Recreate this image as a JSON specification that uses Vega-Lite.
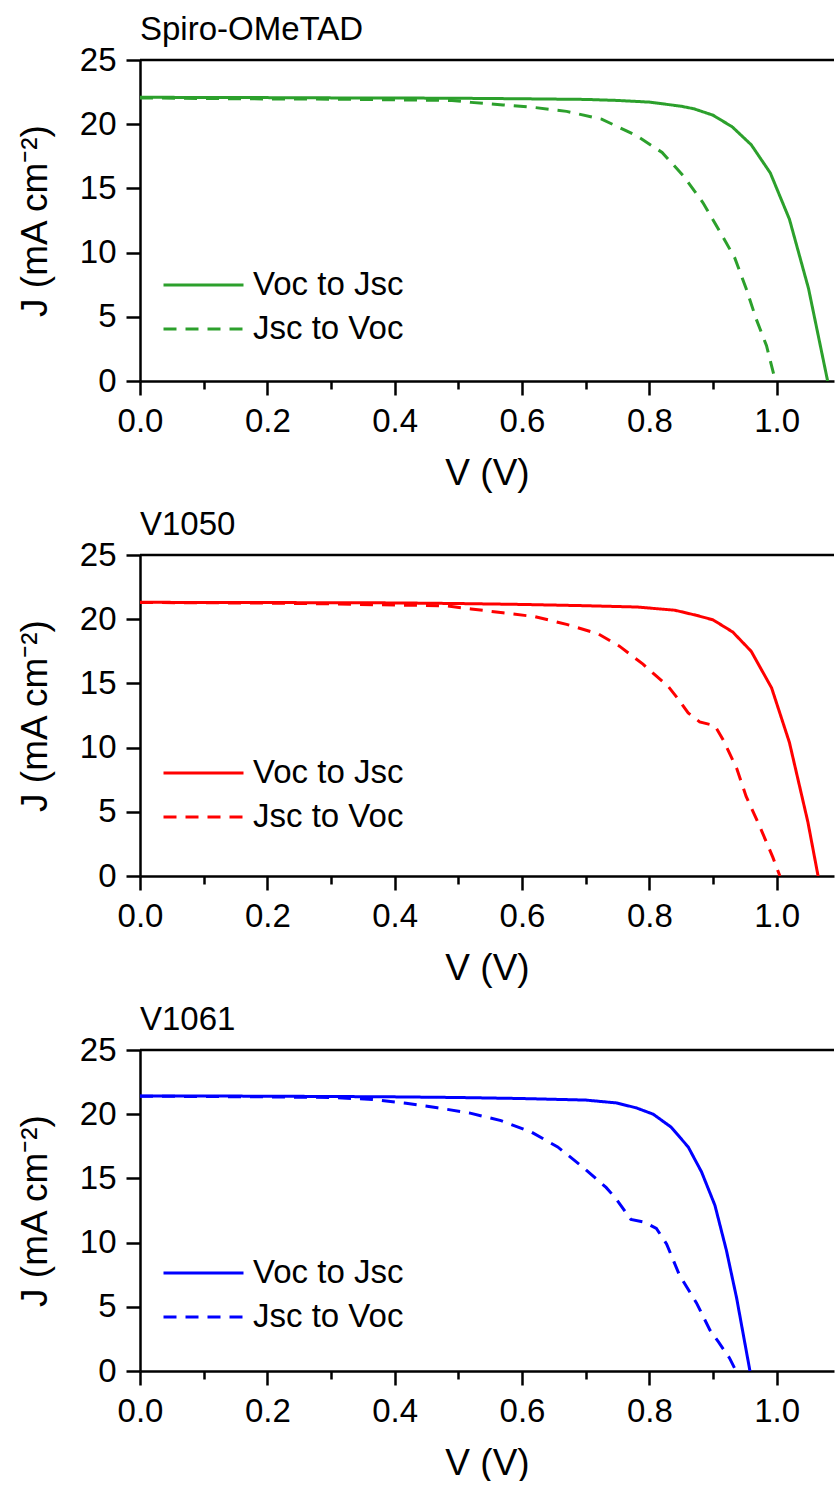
{
  "$schema": "https://vega.github.io/schema/vega-lite/v6.json",
  "padding": {"left": 16, "top": 14, "right": 0, "bottom": 0},
  "spacing": 18,
  "data": {"values": [
    {"panel":"Spiro-OMeTAD","scan":"Voc to Jsc","V":0,"J":22.1},
    {"panel":"Spiro-OMeTAD","scan":"Voc to Jsc","V":0.1,"J":22.08},
    {"panel":"Spiro-OMeTAD","scan":"Voc to Jsc","V":0.2,"J":22.07},
    {"panel":"Spiro-OMeTAD","scan":"Voc to Jsc","V":0.3,"J":22.05},
    {"panel":"Spiro-OMeTAD","scan":"Voc to Jsc","V":0.4,"J":22.04},
    {"panel":"Spiro-OMeTAD","scan":"Voc to Jsc","V":0.5,"J":22.02},
    {"panel":"Spiro-OMeTAD","scan":"Voc to Jsc","V":0.6,"J":21.98},
    {"panel":"Spiro-OMeTAD","scan":"Voc to Jsc","V":0.7,"J":21.93},
    {"panel":"Spiro-OMeTAD","scan":"Voc to Jsc","V":0.75,"J":21.85},
    {"panel":"Spiro-OMeTAD","scan":"Voc to Jsc","V":0.8,"J":21.72},
    {"panel":"Spiro-OMeTAD","scan":"Voc to Jsc","V":0.85,"J":21.4},
    {"panel":"Spiro-OMeTAD","scan":"Voc to Jsc","V":0.87,"J":21.2},
    {"panel":"Spiro-OMeTAD","scan":"Voc to Jsc","V":0.9,"J":20.7},
    {"panel":"Spiro-OMeTAD","scan":"Voc to Jsc","V":0.93,"J":19.8},
    {"panel":"Spiro-OMeTAD","scan":"Voc to Jsc","V":0.96,"J":18.4},
    {"panel":"Spiro-OMeTAD","scan":"Voc to Jsc","V":0.99,"J":16.2},
    {"panel":"Spiro-OMeTAD","scan":"Voc to Jsc","V":1.02,"J":12.6},
    {"panel":"Spiro-OMeTAD","scan":"Voc to Jsc","V":1.05,"J":7.2},
    {"panel":"Spiro-OMeTAD","scan":"Voc to Jsc","V":1.08,"J":0},
    {"panel":"Spiro-OMeTAD","scan":"Jsc to Voc","V":0,"J":22.05},
    {"panel":"Spiro-OMeTAD","scan":"Jsc to Voc","V":0.1,"J":22.0},
    {"panel":"Spiro-OMeTAD","scan":"Jsc to Voc","V":0.2,"J":21.97},
    {"panel":"Spiro-OMeTAD","scan":"Jsc to Voc","V":0.3,"J":21.95},
    {"panel":"Spiro-OMeTAD","scan":"Jsc to Voc","V":0.4,"J":21.9},
    {"panel":"Spiro-OMeTAD","scan":"Jsc to Voc","V":0.49,"J":21.85},
    {"panel":"Spiro-OMeTAD","scan":"Jsc to Voc","V":0.52,"J":21.7},
    {"panel":"Spiro-OMeTAD","scan":"Jsc to Voc","V":0.57,"J":21.5},
    {"panel":"Spiro-OMeTAD","scan":"Jsc to Voc","V":0.62,"J":21.3},
    {"panel":"Spiro-OMeTAD","scan":"Jsc to Voc","V":0.67,"J":21.0},
    {"panel":"Spiro-OMeTAD","scan":"Jsc to Voc","V":0.725,"J":20.4},
    {"panel":"Spiro-OMeTAD","scan":"Jsc to Voc","V":0.78,"J":19.1},
    {"panel":"Spiro-OMeTAD","scan":"Jsc to Voc","V":0.82,"J":17.8},
    {"panel":"Spiro-OMeTAD","scan":"Jsc to Voc","V":0.853,"J":16.0},
    {"panel":"Spiro-OMeTAD","scan":"Jsc to Voc","V":0.884,"J":13.9},
    {"panel":"Spiro-OMeTAD","scan":"Jsc to Voc","V":0.91,"J":11.7},
    {"panel":"Spiro-OMeTAD","scan":"Jsc to Voc","V":0.934,"J":9.6},
    {"panel":"Spiro-OMeTAD","scan":"Jsc to Voc","V":0.952,"J":7.2},
    {"panel":"Spiro-OMeTAD","scan":"Jsc to Voc","V":0.968,"J":4.8},
    {"panel":"Spiro-OMeTAD","scan":"Jsc to Voc","V":0.984,"J":2.75},
    {"panel":"Spiro-OMeTAD","scan":"Jsc to Voc","V":0.998,"J":0},
    {"panel":"V1050","scan":"Voc to Jsc","V":0,"J":21.32},
    {"panel":"V1050","scan":"Voc to Jsc","V":0.1,"J":21.3},
    {"panel":"V1050","scan":"Voc to Jsc","V":0.2,"J":21.3},
    {"panel":"V1050","scan":"Voc to Jsc","V":0.3,"J":21.28},
    {"panel":"V1050","scan":"Voc to Jsc","V":0.4,"J":21.27},
    {"panel":"V1050","scan":"Voc to Jsc","V":0.5,"J":21.22},
    {"panel":"V1050","scan":"Voc to Jsc","V":0.6,"J":21.15},
    {"panel":"V1050","scan":"Voc to Jsc","V":0.7,"J":21.05},
    {"panel":"V1050","scan":"Voc to Jsc","V":0.78,"J":20.95},
    {"panel":"V1050","scan":"Voc to Jsc","V":0.84,"J":20.7},
    {"panel":"V1050","scan":"Voc to Jsc","V":0.874,"J":20.3},
    {"panel":"V1050","scan":"Voc to Jsc","V":0.9,"J":19.95},
    {"panel":"V1050","scan":"Voc to Jsc","V":0.931,"J":19.0},
    {"panel":"V1050","scan":"Voc to Jsc","V":0.96,"J":17.5},
    {"panel":"V1050","scan":"Voc to Jsc","V":0.992,"J":14.65},
    {"panel":"V1050","scan":"Voc to Jsc","V":1.02,"J":10.4},
    {"panel":"V1050","scan":"Voc to Jsc","V":1.049,"J":4.2},
    {"panel":"V1050","scan":"Voc to Jsc","V":1.065,"J":0},
    {"panel":"V1050","scan":"Jsc to Voc","V":0,"J":21.3},
    {"panel":"V1050","scan":"Jsc to Voc","V":0.1,"J":21.28},
    {"panel":"V1050","scan":"Jsc to Voc","V":0.2,"J":21.25},
    {"panel":"V1050","scan":"Jsc to Voc","V":0.3,"J":21.2},
    {"panel":"V1050","scan":"Jsc to Voc","V":0.4,"J":21.1},
    {"panel":"V1050","scan":"Jsc to Voc","V":0.48,"J":21.05},
    {"panel":"V1050","scan":"Jsc to Voc","V":0.52,"J":20.8},
    {"panel":"V1050","scan":"Jsc to Voc","V":0.57,"J":20.5},
    {"panel":"V1050","scan":"Jsc to Voc","V":0.62,"J":20.2},
    {"panel":"V1050","scan":"Jsc to Voc","V":0.67,"J":19.6},
    {"panel":"V1050","scan":"Jsc to Voc","V":0.72,"J":18.85},
    {"panel":"V1050","scan":"Jsc to Voc","V":0.753,"J":17.9},
    {"panel":"V1050","scan":"Jsc to Voc","V":0.79,"J":16.5},
    {"panel":"V1050","scan":"Jsc to Voc","V":0.808,"J":15.7},
    {"panel":"V1050","scan":"Jsc to Voc","V":0.829,"J":14.8},
    {"panel":"V1050","scan":"Jsc to Voc","V":0.845,"J":13.8},
    {"panel":"V1050","scan":"Jsc to Voc","V":0.861,"J":12.7},
    {"panel":"V1050","scan":"Jsc to Voc","V":0.879,"J":12.0},
    {"panel":"V1050","scan":"Jsc to Voc","V":0.903,"J":11.7},
    {"panel":"V1050","scan":"Jsc to Voc","V":0.916,"J":10.6},
    {"panel":"V1050","scan":"Jsc to Voc","V":0.937,"J":8.4},
    {"panel":"V1050","scan":"Jsc to Voc","V":0.952,"J":6.2},
    {"panel":"V1050","scan":"Jsc to Voc","V":0.973,"J":3.9},
    {"panel":"V1050","scan":"Jsc to Voc","V":0.994,"J":1.45},
    {"panel":"V1050","scan":"Jsc to Voc","V":1.005,"J":0},
    {"panel":"V1061","scan":"Voc to Jsc","V":0,"J":21.42},
    {"panel":"V1061","scan":"Voc to Jsc","V":0.1,"J":21.42},
    {"panel":"V1061","scan":"Voc to Jsc","V":0.2,"J":21.4},
    {"panel":"V1061","scan":"Voc to Jsc","V":0.3,"J":21.38},
    {"panel":"V1061","scan":"Voc to Jsc","V":0.4,"J":21.35},
    {"panel":"V1061","scan":"Voc to Jsc","V":0.5,"J":21.3},
    {"panel":"V1061","scan":"Voc to Jsc","V":0.6,"J":21.22},
    {"panel":"V1061","scan":"Voc to Jsc","V":0.7,"J":21.1},
    {"panel":"V1061","scan":"Voc to Jsc","V":0.748,"J":20.88},
    {"panel":"V1061","scan":"Voc to Jsc","V":0.779,"J":20.5},
    {"panel":"V1061","scan":"Voc to Jsc","V":0.806,"J":20.0},
    {"panel":"V1061","scan":"Voc to Jsc","V":0.834,"J":19.0},
    {"panel":"V1061","scan":"Voc to Jsc","V":0.861,"J":17.45},
    {"panel":"V1061","scan":"Voc to Jsc","V":0.882,"J":15.5},
    {"panel":"V1061","scan":"Voc to Jsc","V":0.903,"J":12.9},
    {"panel":"V1061","scan":"Voc to Jsc","V":0.921,"J":9.4},
    {"panel":"V1061","scan":"Voc to Jsc","V":0.937,"J":5.7},
    {"panel":"V1061","scan":"Voc to Jsc","V":0.958,"J":0},
    {"panel":"V1061","scan":"Jsc to Voc","V":0,"J":21.4},
    {"panel":"V1061","scan":"Jsc to Voc","V":0.1,"J":21.38},
    {"panel":"V1061","scan":"Jsc to Voc","V":0.2,"J":21.35},
    {"panel":"V1061","scan":"Jsc to Voc","V":0.3,"J":21.3},
    {"panel":"V1061","scan":"Jsc to Voc","V":0.365,"J":21.15},
    {"panel":"V1061","scan":"Jsc to Voc","V":0.418,"J":20.86},
    {"panel":"V1061","scan":"Jsc to Voc","V":0.467,"J":20.5},
    {"panel":"V1061","scan":"Jsc to Voc","V":0.517,"J":20.1},
    {"panel":"V1061","scan":"Jsc to Voc","V":0.567,"J":19.5},
    {"panel":"V1061","scan":"Jsc to Voc","V":0.615,"J":18.6},
    {"panel":"V1061","scan":"Jsc to Voc","V":0.656,"J":17.45},
    {"panel":"V1061","scan":"Jsc to Voc","V":0.695,"J":15.9},
    {"panel":"V1061","scan":"Jsc to Voc","V":0.732,"J":14.3},
    {"panel":"V1061","scan":"Jsc to Voc","V":0.748,"J":13.4},
    {"panel":"V1061","scan":"Jsc to Voc","V":0.771,"J":11.8},
    {"panel":"V1061","scan":"Jsc to Voc","V":0.792,"J":11.6},
    {"panel":"V1061","scan":"Jsc to Voc","V":0.811,"J":11.1},
    {"panel":"V1061","scan":"Jsc to Voc","V":0.827,"J":9.9},
    {"panel":"V1061","scan":"Jsc to Voc","V":0.847,"J":7.5},
    {"panel":"V1061","scan":"Jsc to Voc","V":0.874,"J":5.3},
    {"panel":"V1061","scan":"Jsc to Voc","V":0.895,"J":3.2},
    {"panel":"V1061","scan":"Jsc to Voc","V":0.908,"J":2.3},
    {"panel":"V1061","scan":"Jsc to Voc","V":0.926,"J":1.0},
    {"panel":"V1061","scan":"Jsc to Voc","V":0.936,"J":0}
  ]},
  "config": {
    "view": {"stroke": null},
    "font": "Liberation Sans",
    "title": {"font": "Liberation Sans", "fontSize": 33, "fontWeight": "normal", "anchor": "start", "frame": "group", "offset": -3, "color": "black"},
    "axis": {"domainColor": "black", "domainWidth": 2.5, "tickColor": "black", "tickWidth": 2.5, "labelFont": "Liberation Sans", "labelFontSize": 33, "labelColor": "black", "titleFont": "Liberation Sans", "titleFontSize": 37, "titleFontWeight": "normal", "titleColor": "black", "grid": false, "labelFlush": false, "labelOverlap": false},
    "legend": {"labelFont": "Liberation Sans", "labelFontSize": 33, "labelColor": "black"}
  },
  "resolve": {"scale": {"strokeDash": "independent"}, "legend": {"strokeDash": "independent"}},
  "vconcat": [
    {
      "title": {"text": "Spiro-OMeTAD"},
      "width": 694, "height": 321,
      "layer": [
        {
          "transform": [{"filter": "datum.panel == 'Spiro-OMeTAD'"}],
          "mark": {"type": "line", "color": "#2ca02c", "strokeWidth": 3, "clip": true},
          "encoding": {
            "x": {"field": "V", "type": "quantitative", "scale": {"domain": [0, 1.09], "nice": false, "zero": false},
              "axis": {"title": "V (V)", "values": [0,0.1,0.2,0.3,0.4,0.5,0.6,0.7,0.8,0.9,1.0], "labelExpr": "round(datum.value*10)%2==0 ? format(datum.value,'.1f') : ''", "tickSize": {"condition": {"test": "round(datum.value*10)%2==0", "value": 14}, "value": 8}, "labelPadding": 10, "titlePadding": 17}},
            "y": {"field": "J", "type": "quantitative", "scale": {"domain": [0, 25], "nice": false},
              "axis": {"title": "J (mA cm⁻²)", "values": [0,2.5,5,7.5,10,12.5,15,17.5,20,22.5,25], "labelExpr": "datum.value%5==0 ? format(datum.value,'d') : ''", "tickSize": {"condition": {"test": "datum.value%5==0", "value": 14}, "value": 8}, "labelPadding": 10, "titlePadding": 25}},
            "strokeDash": {"field": "scan", "type": "nominal", "scale": {"domain": ["Voc to Jsc", "Jsc to Voc"], "range": [[1,0],[13,9]]},
              "legend": {"orient": "none", "legendX": 22, "legendY": 203, "title": null, "symbolType": "stroke", "symbolSize": 6400, "symbolStrokeWidth": 3, "symbolStrokeColor": "#2ca02c", "clipHeight": 44, "rowPadding": 0, "labelOffset": 8}}
          }
        },
        {
          "data": {"values": [{}]},
          "mark": {"type": "rule", "color": "black", "strokeWidth": 2.5},
          "encoding": {"y": {"datum": 25}}
        }
      ]
    },
    {
      "title": {"text": "V1050"},
      "width": 694, "height": 321,
      "layer": [
        {
          "transform": [{"filter": "datum.panel == 'V1050'"}],
          "mark": {"type": "line", "color": "#ff0000", "strokeWidth": 3, "clip": true},
          "encoding": {
            "x": {"field": "V", "type": "quantitative", "scale": {"domain": [0, 1.09], "nice": false, "zero": false},
              "axis": {"title": "V (V)", "values": [0,0.1,0.2,0.3,0.4,0.5,0.6,0.7,0.8,0.9,1.0], "labelExpr": "round(datum.value*10)%2==0 ? format(datum.value,'.1f') : ''", "tickSize": {"condition": {"test": "round(datum.value*10)%2==0", "value": 14}, "value": 8}, "labelPadding": 10, "titlePadding": 17}},
            "y": {"field": "J", "type": "quantitative", "scale": {"domain": [0, 25], "nice": false},
              "axis": {"title": "J (mA cm⁻²)", "values": [0,2.5,5,7.5,10,12.5,15,17.5,20,22.5,25], "labelExpr": "datum.value%5==0 ? format(datum.value,'d') : ''", "tickSize": {"condition": {"test": "datum.value%5==0", "value": 14}, "value": 8}, "labelPadding": 10, "titlePadding": 25}},
            "strokeDash": {"field": "scan", "type": "nominal", "scale": {"domain": ["Voc to Jsc", "Jsc to Voc"], "range": [[1,0],[13,9]]},
              "legend": {"orient": "none", "legendX": 22, "legendY": 196, "title": null, "symbolType": "stroke", "symbolSize": 6400, "symbolStrokeWidth": 3, "symbolStrokeColor": "#ff0000", "clipHeight": 44, "rowPadding": 0, "labelOffset": 8}}
          }
        },
        {
          "data": {"values": [{}]},
          "mark": {"type": "rule", "color": "black", "strokeWidth": 2.5},
          "encoding": {"y": {"datum": 25}}
        }
      ]
    },
    {
      "title": {"text": "V1061"},
      "width": 694, "height": 321,
      "layer": [
        {
          "transform": [{"filter": "datum.panel == 'V1061'"}],
          "mark": {"type": "line", "color": "#0000ff", "strokeWidth": 3, "clip": true},
          "encoding": {
            "x": {"field": "V", "type": "quantitative", "scale": {"domain": [0, 1.09], "nice": false, "zero": false},
              "axis": {"title": "V (V)", "values": [0,0.1,0.2,0.3,0.4,0.5,0.6,0.7,0.8,0.9,1.0], "labelExpr": "round(datum.value*10)%2==0 ? format(datum.value,'.1f') : ''", "tickSize": {"condition": {"test": "round(datum.value*10)%2==0", "value": 14}, "value": 8}, "labelPadding": 10, "titlePadding": 17}},
            "y": {"field": "J", "type": "quantitative", "scale": {"domain": [0, 25], "nice": false},
              "axis": {"title": "J (mA cm⁻²)", "values": [0,2.5,5,7.5,10,12.5,15,17.5,20,22.5,25], "labelExpr": "datum.value%5==0 ? format(datum.value,'d') : ''", "tickSize": {"condition": {"test": "datum.value%5==0", "value": 14}, "value": 8}, "labelPadding": 10, "titlePadding": 25}},
            "strokeDash": {"field": "scan", "type": "nominal", "scale": {"domain": ["Voc to Jsc", "Jsc to Voc"], "range": [[1,0],[13,9]]},
              "legend": {"orient": "none", "legendX": 22, "legendY": 201, "title": null, "symbolType": "stroke", "symbolSize": 6400, "symbolStrokeWidth": 3, "symbolStrokeColor": "#0000ff", "clipHeight": 44, "rowPadding": 0, "labelOffset": 8}}
          }
        },
        {
          "data": {"values": [{}]},
          "mark": {"type": "rule", "color": "black", "strokeWidth": 2.5},
          "encoding": {"y": {"datum": 25}}
        }
      ]
    }
  ]
}
